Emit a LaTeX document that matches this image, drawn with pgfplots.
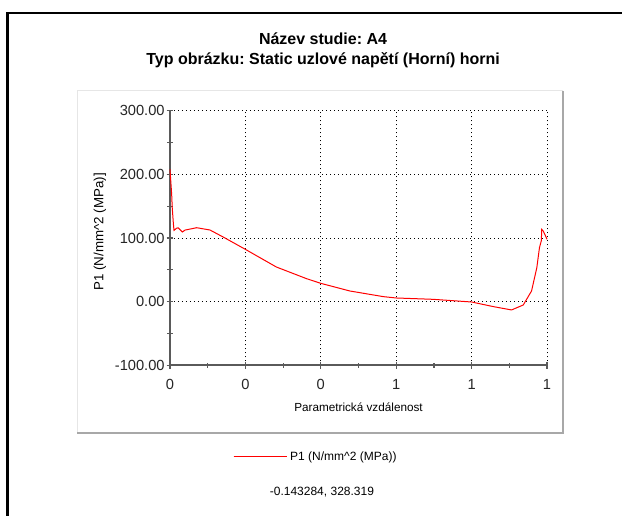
\documentclass[border=0pt]{standalone}
\usepackage{pgfplots}
\pgfplotsset{compat=1.18}
\usepackage{fontspec}
\setmainfont{Liberation Sans}
\frenchspacing

\definecolor{axisgray}{HTML}{5A5A5A}
\definecolor{panelline}{HTML}{E6E6E6}
\definecolor{paneldark}{HTML}{A8A8A8}

\pgfplotstableread{
x y
0 207.8
0.0045 168
0.006 147
0.0088 124
0.0106 112
0.0177 115.5
0.022 116
0.0327 109.5
0.04 112.5
0.0708 116.2
0.106 112.6
0.141 101.6
0.2 82.2
0.282 54.5
0.362 36.2
0.4 28.8
0.477 16.8
0.566 7.9
0.6 5.8
0.698 3.7
0.8 -0.5
0.858 -7.8
0.906 -13
0.937 -5.2
0.959 16.8
0.973 53.4
0.98 84.8
0.985 96
0.986 113.6
0.990 111
0.994 106
1.0 98
}\pone

\begin{document}
\begin{tikzpicture}
% page = 622 x 516 px at 0.75pt per px
\useasboundingbox (0,0) rectangle (466.5pt,387pt);
\fill[white] (0,0) rectangle (466.5pt,387pt);
% outer frame
\draw[black, line width=1.6pt] (5.6pt,0) -- (5.6pt,377.25pt) -- (466.5pt,377.25pt);
% chart panel
\draw[panelline, line width=0.75pt] (57.75pt,62.25pt) -- (57.75pt,318.75pt) -- (422.25pt,318.75pt);
\draw[paneldark, line width=1.5pt] (422.25pt,318.75pt) -- (422.25pt,62.25pt) -- (57.75pt,62.25pt);

\begin{axis}[
  at={(127.5pt,113pt)}, anchor=south west,
  scale only axis,
  width=282.75pt, height=190.95pt,
  xmin=0, xmax=1, ymin=-100, ymax=300,
  axis x line*=bottom, axis y line*=left,
  axis line style={-, axisgray, line width=1.5pt},
  xtick={0,0.2,0.4,0.6,0.8,1},
  xticklabels={0,0,0,1,1,1},
  ytick={-100,0,100,200,300},
  yticklabels={-100.00,0.00,100.00,200.00,300.00},
  minor x tick num=1, minor y tick num=1,
  tick align=center,
  major tick length=5pt, minor tick length=4pt,
  tick style={axisgray, line width=0.9pt},
  grid=major,
  major grid style={black, line width=0.75pt, dash pattern=on 0.75pt off 2.25pt},
  tick label style={font=\fontsize{11}{13}\selectfont, text=black!85},
  xticklabel style={yshift=-4.5pt},
  yticklabel style={xshift=2pt},
  /pgf/number format/assume math mode=true,
  xlabel={Parametrická vzdálenost},
  ylabel={P1 (N/mm\textasciicircum 2 (MPa)]},
  every axis x label/.style={at={(axis description cs:0.5,-0.165)}, anchor=center,
    font=\fontsize{8.8}{10}\selectfont},
  every axis y label/.style={at={(axis description cs:-0.186,0.524)}, anchor=center, rotate=90,
    font=\fontsize{10}{12}\selectfont},
  title={Název studie: A4\\Typ obrázku: Static uzlové napětí (Horní) horni},
  title style={at={(axis description cs:0.406,1.207)}, anchor=center, align=center,
    font=\fontsize{12}{15}\selectfont\bfseries},
  legend style={at={(axis description cs:0.167,-0.36)}, anchor=west, draw=none, fill=none,
    inner sep=0pt, font=\fontsize{9}{11}\selectfont},
  legend image code/.code={\draw[#1] (0pt,0pt) -- (33pt,0pt); \path (0pt,0pt) -- (40pt,0pt);},
  clip=false,
]
\addplot[red, line width=0.75pt] table[x=x, y=y] {\pone};
\addlegendentry{P1 (N/mm\textasciicircum 2 (MPa))}
\node[font=\fontsize{9}{11}\selectfont] at (axis description cs:0.403,-0.498) {-0.143284, 328.319};
\end{axis}
\end{tikzpicture}
\end{document}
